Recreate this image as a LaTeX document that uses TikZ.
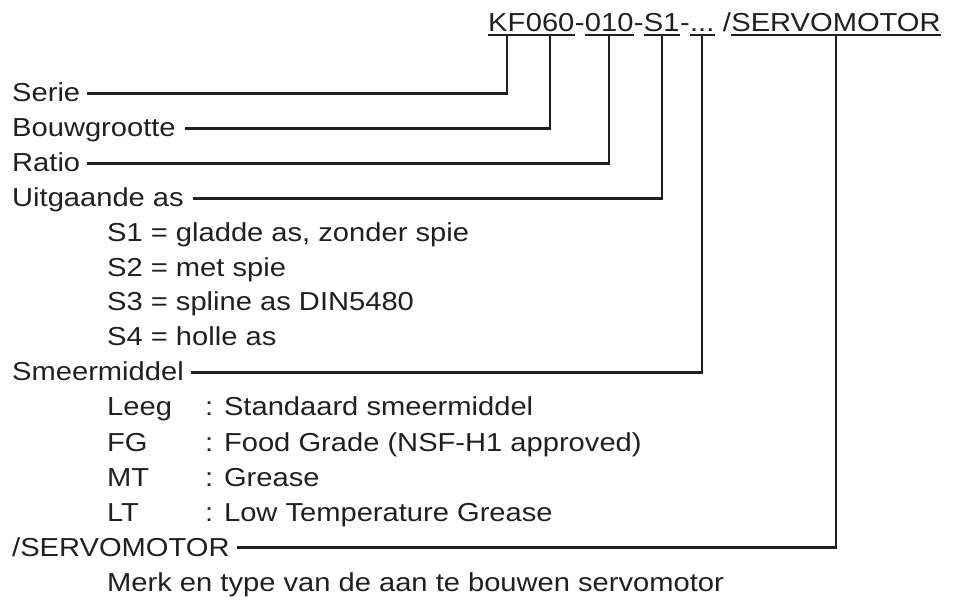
\documentclass[tikz,border=0pt]{standalone}
\usepackage{fontspec}
\setmainfont{Liberation Sans}[FakeStretch=1.12]
\usepackage{tikz}
\usetikzlibrary{calc}
\definecolor{mInk}{HTML}{231F20}

\begin{document}
\begin{tikzpicture}[x=1pt, y=-1pt,
      every node/.style={inner sep=0pt, anchor=base west, text=mInk,
                         font=\fontsize{26}{30}\selectfont},
      lbl/.style={text height=21pt, text depth=4pt},
      conn/.style={draw=mInk, line width=2.5pt},
      uline/.style={draw=mInk, line width=2.2pt}]
    \useasboundingbox (0,0) rectangle (953,601);

    % type code
    \node (kf)    at (488,32)       {KF};
    \node (bg)    at (kf.base east) {060};
    \node (da)    at (bg.base east) {-};
    \node (ra)    at (da.base east) {010};
    \node (db)    at (ra.base east) {-};
    \node (as)    at (db.base east) {S1};
    \node (dc)    at (as.base east) {-};
    \node (sm)    at (dc.base east) {...};
    \node (sl)    at (sm.base east) {\ /};
    \node (servo) at (sl.base east) {SERVOMOTOR};

    \foreach \n in {kf, bg, ra, as, sm, servo}
      \draw[uline] ([yshift=-3pt]\n.base west) -- ([yshift=-3pt]\n.base east);

    % labels
    \node[lbl] (serie)   at (12,102)  {Serie};
    \node[lbl] (bouw)    at (12,137)  {Bouwgrootte};
    \node[lbl] (ratio)   at (12,172)  {Ratio};
    \node[lbl] (uitg)    at (12,207)  {Uitgaande as};
    \node      (s1)      at (107,242) {S1 = gladde as, zonder spie};
    \node      (s2)      at (107,277) {S2 = met spie};
    \node      (s3)      at (107,311) {S3 = spline as DIN5480};
    \node      (s4)      at (107,346) {S4 = holle as};
    \node[lbl] (smeer)   at (12,381)  {Smeermiddel};
    \node      (leeg)    at (107,416) {Leeg};
    \node      (leegtxt) at (205,416) {: Standaard smeermiddel};
    \node      (fg)      at (107,451) {FG};
    \node      (fgtxt)   at (205,451) {: Food Grade (NSF-H1 approved)};
    \node      (mt)      at (107,486) {MT};
    \node      (mttxt)   at (205,486) {: Grease};
    \node      (lt)      at (107,521) {LT};
    \node      (lttxt)   at (205,521) {: Low Temperature Grease};
    \node[lbl] (motor)   at (12,556)  {/SERVOMOTOR};
    \node      (merk)    at (107,591) {Merk en type van de aan te bouwen servomotor};

    % connectors
    \draw[conn] ([yshift=-3pt]kf.base)    |- ([xshift=7pt]serie.east);
    \draw[conn] ([yshift=-3pt]bg.base)    |- ([xshift=9pt]bouw.east);
    \draw[conn] ([yshift=-3pt]ra.base)    |- ([xshift=7pt]ratio.east);
    \draw[conn] ([yshift=-3pt]as.base)    |- ([xshift=9pt]uitg.east);
    \draw[conn] ([yshift=-3pt]sm.base)    |- ([xshift=7pt]smeer.east);
    \draw[conn] ([yshift=-3pt]servo.base) |- ([xshift=7pt]motor.east);
  \end{tikzpicture}
\end{document}
